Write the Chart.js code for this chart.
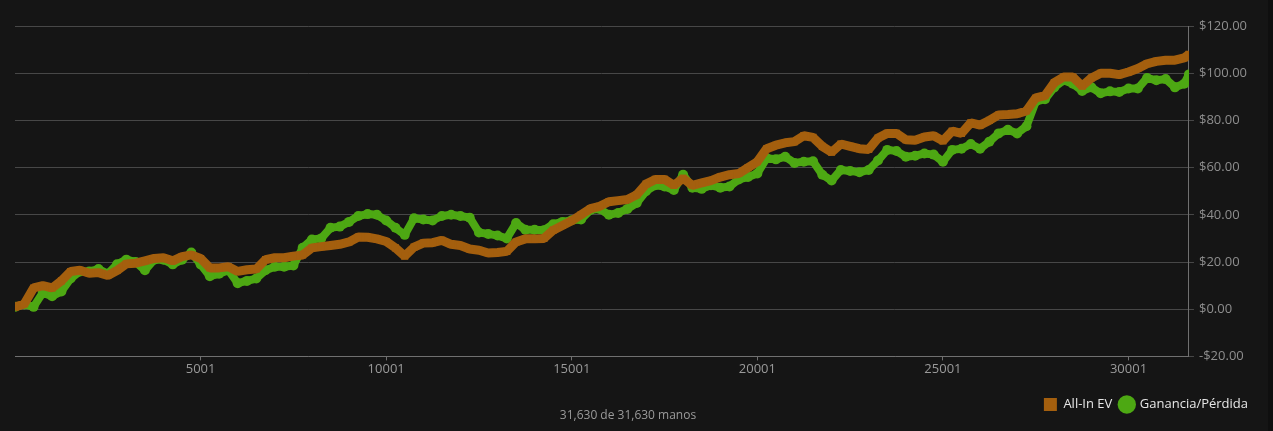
<!DOCTYPE html>
<html>
<head>
<meta charset="utf-8">
<script src="https://cdn.jsdelivr.net/npm/chart.js@4"></script>
<style>
  html, body { margin: 0; padding: 0; background: #0f0f0f; }
  #wrap { width: 1268px; height: 431px; background: #151515; position: relative; }
</style>
</head>
<body>
<div id="wrap"><canvas id="myChart"></canvas></div>
<script>
// sample positions (hand number) used when reading the curves
var hands = [
  1, 251, 501, 751, 1001, 1251, 1501, 1751, 2001, 2251, 2501, 2751, 3001, 3251, 3501, 3751,
  4001, 4251, 4501, 4751, 5001, 5251, 5501, 5751, 6001, 6251, 6501, 6751, 7001, 7251, 7501, 7751,
  8001, 8251, 8501, 8751, 9001, 9251, 9501, 9751, 10001, 10251, 10501, 10751, 11001, 11251, 11501, 11751,
  12001, 12251, 12501, 12751, 13001, 13251, 13501, 13751, 14001, 14251, 14501, 14751, 15001, 15251, 15501, 15751,
  16001, 16251, 16501, 16751, 17001, 17251, 17501, 17751, 18001, 18251, 18501, 18751, 19001, 19251, 19501, 19751,
  20001, 20251, 20501, 20751, 21001, 21251, 21501, 21751, 22001, 22251, 22501, 22751, 23001, 23251, 23501, 23751,
  24001, 24251, 24501, 24751, 25001, 25251, 25501, 25751, 26001, 26251, 26501, 26751, 27001, 27251, 27501, 27751,
  28001, 28251, 28501, 28751, 29001, 29251, 29501, 29751, 30001, 30251, 30501, 30751, 31001, 31251, 31501, 31630
];

var allInEv = [
  1, 2.2, 9, 10, 9, 12, 16, 16.5, 15.2, 15.5, 14.3, 16.4, 19.2, 19.5, 20.5, 21.5,
  21.8, 20.5, 22.3, 23, 21.5, 17.5, 17.5, 18, 16, 16.7, 17, 21, 21.8, 21.8, 22.5, 23,
  26, 26.5, 27, 27.5, 28.5, 30.6, 30.5, 29.8, 28.7, 26, 22.5, 26.3, 28, 28.2, 29.2, 27.5,
  27, 25.5, 25, 23.8, 24, 24.5, 28.5, 29.8, 29.8, 30, 33.5, 35.5, 37.5, 40, 42.6, 43.6,
  45.5, 46, 46.5, 48.5, 53, 55, 55, 52.5, 55.5, 52.5, 53.5, 54.5, 56, 57, 57.5, 60,
  62.5, 68, 69.5, 70.5, 71, 73.5, 72.8, 69, 66.5, 70, 69, 68, 67.7, 72.5, 74.5, 74.5,
  71.8, 71.6, 73, 73.5, 71.3, 75.5, 74.5, 79, 78, 80, 82.3, 82.5, 82.8, 84, 89.5, 90.5,
  96, 98.4, 98.4, 94.5, 98, 100, 100, 99.4, 100.5, 102, 104, 105, 105.5, 105.5, 106.5, 108
];

var ganancia = [
  1, 2, 1, 7, 5.5, 7.5, 13, 16, 16, 17, 15, 19, 21, 20, 16.5, 21,
  21, 19, 21, 24, 19, 14, 15, 16.5, 11, 12, 13, 16.5, 18, 18, 18.5, 26,
  29.5, 30, 34.5, 35, 37, 39.5, 40.3, 40, 37.6, 34.5, 31.5, 38.5, 38, 37.6, 39.5, 40,
  39.5, 38.8, 32.5, 31.9, 31.2, 30, 36.5, 33.7, 33.7, 33.5, 36, 37, 37.7, 38, 42, 42.5,
  40, 40.8, 42.5, 45, 50, 52.5, 52, 50.5, 57, 51.5, 51, 52.5, 51.5, 52, 55, 56,
  57.5, 64, 63.5, 64.6, 62, 62.5, 62.7, 57, 54.5, 59, 58.6, 58, 59, 63, 67.5, 67,
  64.6, 65, 66, 65.5, 62.5, 67.5, 68, 70, 68, 71, 74.5, 76, 74.5, 77.5, 88, 89,
  94, 97, 95.5, 92.5, 94, 91.5, 92.3, 92, 93.5, 93.5, 98, 97, 97.5, 94, 95.5, 99.5
];

var xTicks = [5001, 10001, 15001, 20001, 25001, 30001];
var totalHands = 31630;

function toPoints(vals) {
  return hands.map(function (h, i) { return { x: h, y: vals[i] }; });
}

var footerText = {
  id: 'footerText',
  afterDraw: function (chart) {
    var ctx = chart.ctx;
    ctx.save();
    ctx.font = '12px "Open Sans", sans-serif';
    ctx.fillStyle = '#9a9a9a';
    ctx.textAlign = 'center';
    ctx.textBaseline = 'middle';
    ctx.fillText(totalHands.toLocaleString('en-US') + ' de ' + totalHands.toLocaleString('en-US') + ' manos',
      628, 416);
    ctx.restore();
  }
};

document.addEventListener('DOMContentLoaded', function () {
  var ctx = document.getElementById('myChart').getContext('2d');
  Chart.defaults.font.family = '"Open Sans", sans-serif';

  new Chart(ctx, {
    type: 'line',
    data: {
      datasets: [{
        label: 'All-In EV',
        data: toPoints(allInEv),
        borderColor: '#a45f0e',
        backgroundColor: '#a45f0e',
        borderWidth: 9,
        pointStyle: 'rect',
        pointRadius: 5,
        pointBorderWidth: 0,
        borderJoinStyle: 'bevel',
        order: 1
      }, {
        label: 'Ganancia/Pérdida',
        data: toPoints(ganancia),
        borderColor: '#4da813',
        backgroundColor: '#4da813',
        borderWidth: 8,
        pointStyle: 'circle',
        pointRadius: 5,
        pointBorderWidth: 0,
        borderJoinStyle: 'round',
        order: 2
      }]
    },
    options: {
      responsive: true,
      maintainAspectRatio: false,
      animation: false,
      layout: {
        padding: { left: 15, right: 12, top: 26, bottom: 10 }
      },
      scales: {
        x: {
          type: 'linear',
          min: 1,
          max: totalHands,
          afterBuildTicks: function (axis) {
            axis.ticks = xTicks.map(function (v) { return { value: v }; });
          },
          afterFit: function (axis) {
            axis.height += 12;
          },
          grid: {
            drawOnChartArea: false,
            drawTicks: true,
            tickLength: 4,
            color: '#707070'
          },
          border: { display: true, color: '#707070' },
          ticks: {
            color: '#9a9a9a',
            font: { size: 13 },
            padding: 1,
            maxRotation: 0,
            callback: function (v) { return String(v); }
          }
        },
        y: {
          position: 'right',
          min: -20,
          max: 120,
          afterFit: function (axis) {
            axis.width += 4;
          },
          grid: {
            color: '#474747',
            tickLength: 5
          },
          border: { display: true, color: '#707070' },
          ticks: {
            stepSize: 20,
            color: '#8e8e8e',
            font: { size: 13 },
            padding: 5,
            callback: function (v) {
              return (v < 0 ? '-$' : '$') + Math.abs(v).toFixed(2);
            }
          }
        }
      },
      plugins: {
        legend: {
          position: 'bottom',
          align: 'end',
          labels: {
            usePointStyle: true,
            boxWidth: 14,
            boxHeight: 14,
            padding: 8,
            color: '#e6e6e6',
            font: { size: 13 }
          }
        },
        tooltip: { enabled: false }
      }
    },
    plugins: [footerText]
  });
});
</script>
</body>
</html>
